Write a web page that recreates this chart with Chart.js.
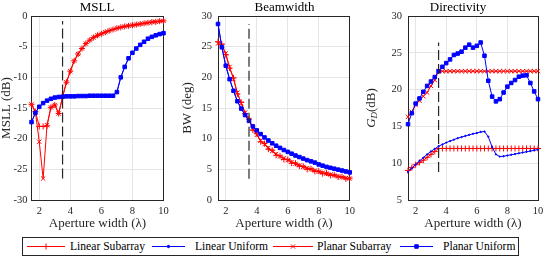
<!DOCTYPE html>
<html>
<head>
<meta charset="utf-8">
<script src="https://cdn.jsdelivr.net/npm/chart.js@4.4.0/dist/chart.umd.min.js"></script>
<style>
  body { margin: 0; background: #fff; width: 549px; height: 257px; overflow: hidden; position: relative; font-family: "Liberation Serif", serif; }
  canvas.panel { position: absolute; top: 0; }
  #legend { position: absolute; left: 22px; top: 237px; width: 497px; height: 19px; box-sizing: border-box; border: 1px solid #262626; background: #fff; }
  .item { position: absolute; top: 0; height: 17px; line-height: 17px; font-size: 11.6px; color: #000; white-space: nowrap; }
  .sample { position: absolute; top: 0; }
</style>
</head>
<body>
<canvas id="msll" class="panel" width="180" height="235" style="left:0px"></canvas>
<canvas id="bw" class="panel" width="180" height="235" style="left:180px"></canvas>
<canvas id="dir" class="panel" width="189" height="235" style="left:360px"></canvas>
<div id="legend"></div>
<script>
// aperture widths (lambda)
const apertureX = [1.5, 1.75, 2, 2.25, 2.5, 2.75, 3, 3.25, 3.5, 3.75, 4, 4.25, 4.5, 4.75, 5, 5.25, 5.5, 5.75,
  6, 6.25, 6.5, 6.75, 7, 7.25, 7.5, 7.75, 8, 8.25, 8.5, 8.75, 9, 9.25, 9.5, 9.75, 10];
const xTicks = [2, 4, 6, 8, 10];
const splitX = 3.5;
const seriesNames = ['Linear Subarray', 'Linear Uniform', 'Planar Subarray', 'Planar Uniform'];

// MSLL (dB)
const msllLinSub = [-14.4, -15.6, -18.0, -18.0, -17.9, -14.9, -14.5, -15.9, -13.2, -10.8,
  -9.0, -7.3, -6.2, -5.3, -4.5, -3.95, -3.5, -3.15, -2.9, -2.65,
  -2.4, -2.2, -2.0, -1.85, -1.7, -1.6, -1.5, -1.4, -1.3, -1.2,
  -1.1, -1.0, -0.95, -0.85, -0.8];
const msllLinUni = [-17.3, -15.8, -14.8, -14.2, -13.8, -13.5, -13.3, -13.2, -13.15, -13.1,
  -13.1, -13.1, -13.05, -13.05, -13.05, -13.0, -13.0, -13.0, -13.0, -13.0,
  -13.0, -13.0, -12.4, -10.0, -8.3, -6.9, -6.0, -5.3, -4.7, -4.2,
  -3.7, -3.4, -3.15, -2.95, -2.8];
const msllPlaSub = [-14.4, -15.6, -20.5, -26.5, -17.8, -14.9, -14.5, -15.9, -13.2, -10.8,
  -9.0, -7.3, -6.2, -5.3, -4.5, -3.95, -3.5, -3.15, -2.9, -2.65,
  -2.4, -2.2, -2.0, -1.85, -1.7, -1.6, -1.5, -1.4, -1.3, -1.2,
  -1.1, -1.0, -0.95, -0.85, -0.8];
const msllPlaUni = [-17.3, -15.8, -14.8, -14.2, -13.8, -13.5, -13.3, -13.2, -13.15, -13.1,
  -13.1, -13.1, -13.05, -13.05, -13.05, -13.0, -13.0, -13.0, -13.0, -13.0,
  -13.0, -13.0, -12.4, -10.0, -8.3, -6.9, -6.0, -5.3, -4.7, -4.2,
  -3.7, -3.4, -3.15, -2.95, -2.8];

// beamwidth (deg)
const bwLinSub = [25.8, 25.4, 23.7, 21.5, 19.9, 17.3, 15.9, 14.1, 13.2, 11.4,
  10.8, 9.5, 9.2, 8.3, 8.1, 7.3, 7.2, 6.6, 6.6, 6.0,
  6.0, 5.5, 5.5, 5.0, 5.1, 4.65, 4.7, 4.3, 4.4, 4.0,
  4.1, 3.75, 3.8, 3.45, 3.55];
const bwLinUni = [28.7, 24.9, 21.9, 19.7, 17.8, 16.1, 14.9, 13.85, 12.9, 12.0,
  11.35, 10.75, 10.2, 9.7, 9.25, 8.85, 8.5, 8.15, 7.85, 7.55,
  7.25, 7.0, 6.75, 6.5, 6.3, 6.1, 5.8, 5.6, 5.4, 5.25,
  5.1, 4.95, 4.8, 4.65, 4.5];
const bwPlaSub = [25.5, 25.2, 23.9, 21.7, 19.7, 17.5, 15.75, 14.25, 13.05, 11.6,
  10.6, 9.7, 9.1, 8.5, 8.0, 7.5, 7.1, 6.8, 6.5, 6.2,
  5.9, 5.65, 5.4, 5.2, 5.0, 4.8, 4.6, 4.45, 4.3, 4.15,
  4.0, 3.85, 3.7, 3.6, 3.5];
const bwPlaUni = [28.7, 24.9, 21.9, 19.7, 17.8, 16.1, 14.9, 13.85, 12.9, 12.0,
  11.35, 10.75, 10.2, 9.7, 9.25, 8.85, 8.5, 8.15, 7.85, 7.55,
  7.25, 7.0, 6.75, 6.5, 6.3, 6.1, 5.8, 5.6, 5.4, 5.25,
  5.1, 4.95, 4.8, 4.65, 4.5];

// directivity (dB)
const dirLinSub = [9.0, 9.4, 9.8, 10.1, 10.4, 10.8, 11.2, 11.6, 12.0, 12.0,
  12.0, 12.0, 12.0, 12.0, 12.0, 12.0, 12.0, 12.0, 12.0, 12.0,
  12.0, 12.0, 12.0, 12.0, 12.0, 12.0, 12.0, 12.0, 12.0, 12.0,
  12.0, 12.0, 12.0, 12.0, 12.0];
const dirLinUni = [8.8, 9.3, 9.8, 10.3, 10.75, 11.2, 11.6, 11.95, 12.3, 12.55,
  12.8, 13.0, 13.2, 13.4, 13.55, 13.7, 13.85, 14.0, 14.1, 14.25,
  14.3, 13.6, 12.2, 11.2, 10.9, 10.95, 11.05, 11.15, 11.25, 11.35,
  11.45, 11.55, 11.65, 11.75, 11.85];
const dirPlaSub = [16.3, 17.0, 17.9, 18.5, 19.1, 19.6, 20.5, 21.3, 22.5, 22.5,
  22.5, 22.5, 22.5, 22.5, 22.5, 22.5, 22.5, 22.5, 22.5, 22.5,
  22.5, 22.5, 22.5, 22.5, 22.5, 22.5, 22.5, 22.5, 22.5, 22.5,
  22.5, 22.5, 22.5, 22.5, 22.5];
const dirPlaUni = [15.3, 16.8, 18.1, 18.8, 19.7, 20.5, 21.1, 21.7, 22.5, 23.1,
  23.6, 24.1, 24.7, 24.9, 25.15, 25.7, 26.1, 25.7, 25.95, 26.4,
  24.6, 21.2, 19.05, 18.4, 18.7, 19.6, 20.4, 20.9, 21.3, 21.75,
  21.9, 21.95, 20.9, 19.75, 18.7];

const FONT = '"Liberation Serif", serif';
const AXIS = '#262626';

const styles = [
  { color: '#ff0000', pointStyle: 'cross', radius: 3 },
  { color: '#0000ff', pointStyle: 'circle', radius: 0.7 },
  { color: '#ff0000', pointStyle: 'crossRot', radius: 3 },
  { color: '#0000ff', pointStyle: 'rect', radius: 2.5 }
];

// per panel decorations: title, y title
const decor = {
  msll: { title: 'MSLL', titleX: 97, yTitleX: 7, yTitle: [{ t: 'MSLL (dB)' }] },
  bw: { title: 'Beamwidth', titleX: 104.5, yTitleX: 8, yTitle: [{ t: 'BW (deg)' }] },
  dir: { title: 'Directivity', titleX: 98, yTitleX: 12, yTitle: [{ t: 'G', it: true }, { t: 'D', it: true, sub: true }, { t: '(dB)' }] }
};

const decorPlugin = {
  id: 'decor',
  beforeDatasetsDraw(chart) {
    const a = chart.chartArea, ctx = chart.ctx;
    const l = Math.round(a.left - 0.5) + 0.5, t = Math.round(a.top - 0.5) + 0.5;
    const r = Math.round(a.right - 0.5) + 0.5, b = Math.round(a.bottom - 0.5) + 0.5;
    ctx.save();
    ctx.strokeStyle = AXIS;
    ctx.lineWidth = 1;
    ctx.strokeRect(l, t, r - l, b - t);
    ctx.restore();
  },
  afterDraw(chart) {
    const d = decor[chart.canvas.id], a = chart.chartArea, ctx = chart.ctx;
    ctx.save();
    ctx.fillStyle = '#000';
    ctx.font = '13px ' + FONT;
    ctx.textAlign = 'center';
    ctx.textBaseline = 'alphabetic';
    ctx.fillText(d.title, d.titleX, 11);

    // rotated y title, pieces laid out left to right
    ctx.fillStyle = AXIS;
    ctx.translate(d.yTitleX, (a.top + a.bottom) / 2);
    ctx.rotate(-Math.PI / 2);
    ctx.textAlign = 'left';
    ctx.textBaseline = 'middle';
    const fontOf = p => (p.it ? 'italic ' : '') + (p.sub ? '9px ' : '13px ') + FONT;
    let w = 0;
    d.yTitle.forEach(p => { ctx.font = fontOf(p); w += ctx.measureText(p.t).width; });
    let x = -w / 2;
    d.yTitle.forEach(p => {
      ctx.font = fontOf(p);
      ctx.fillText(p.t, x, p.sub ? 3 : 0);
      x += ctx.measureText(p.t).width;
    });
    ctx.restore();
  }
};

function toPoints(ys) {
  return apertureX.map((x, i) => ({ x: x, y: ys[i] }));
}

function makePanel(id, series, yMin, yMax, yWidth, tickPad, padRight) {
  const all = [].concat(...series);
  const lo = Math.min(...all), hi = Math.max(...all);
  const datasets = series.map((ys, i) => ({
    label: seriesNames[i],
    data: toPoints(ys),
    borderColor: styles[i].color,
    backgroundColor: styles[i].color,
    borderWidth: 1,
    pointStyle: styles[i].pointStyle,
    pointRadius: styles[i].radius,
    pointBorderWidth: 1,
    pointHoverRadius: styles[i].radius,
    tension: 0,
    clip: false,
    order: 5 - i
  }));
  datasets.push({
    label: 'split',
    data: [{ x: splitX, y: lo }, { x: splitX, y: hi }],
    borderColor: AXIS,
    borderWidth: 1.2,
    borderDash: [10, 4],
    pointRadius: 0,
    order: 0
  });

  new Chart(document.getElementById(id), {
    type: 'line',
    data: { datasets: datasets },
    options: {
      responsive: false,
      animation: false,
      events: [],
      layout: { padding: { left: 0, right: padRight, top: 16, bottom: 0 } },
      plugins: { legend: { display: false }, tooltip: { enabled: false } },
      scales: {
        x: {
          type: 'linear',
          min: 1.5,
          max: 10,
          afterBuildTicks: s => { s.ticks = xTicks.map(v => ({ value: v })); },
          afterFit: s => { s.height = 35; },
          grid: { color: '#e5e5e5', drawTicks: false },
          border: { color: AXIS },
          ticks: { padding: 5, color: AXIS, maxRotation: 0, font: { family: FONT, size: 10.5 } },
          title: {
            display: true,
            text: 'Aperture width (λ)',
            color: AXIS,
            font: { family: FONT, size: 13 },
            padding: { top: 0, bottom: 3.7 }
          }
        },
        y: {
          type: 'linear',
          min: yMin,
          max: yMax,
          afterFit: s => { s.width = yWidth; },
          grid: { color: '#e5e5e5', drawTicks: false },
          border: { color: AXIS },
          ticks: { stepSize: 5, padding: tickPad, color: AXIS, font: { family: FONT, size: 10.5 } }
        }
      }
    },
    plugins: [decorPlugin]
  });
}

makePanel('msll', [msllLinSub, msllLinUni, msllPlaSub, msllPlaUni], -30, 0, 31.5, 4, 16.5);
makePanel('bw', [bwLinSub, bwLinUni, bwPlaSub, bwPlaUni], 0, 30, 38, 6, 9);
makePanel('dir', [dirLinSub, dirLinUni, dirPlaSub, dirPlaUni], 5, 30, 48, 6, 11);

// legend
const legendPos = [
  { line: [27, 65], text: 70 },
  { line: [152, 185], text: 195 },
  { line: [273, 313], text: 317 },
  { line: [400, 433], text: 443 }
];
const legend = document.getElementById('legend');
seriesNames.forEach((name, i) => {
  const p = legendPos[i], st = styles[i];
  const w = p.line[1] - p.line[0];
  const c = document.createElement('canvas');
  c.className = 'sample';
  c.width = w + 8;
  c.height = 17;
  c.style.left = (p.line[0] - 23 - 4) + 'px';
  legend.appendChild(c);
  const ctx = c.getContext('2d');
  ctx.strokeStyle = st.color;
  ctx.fillStyle = st.color;
  ctx.lineWidth = 1;
  ctx.beginPath();
  ctx.moveTo(4, 8.5);
  ctx.lineTo(4 + w, 8.5);
  ctx.stroke();
  Chart.helpers.drawPoint(ctx, { pointStyle: st.pointStyle, radius: Math.max(st.radius, 1.2), borderWidth: 1 }, 4 + w / 2, 8.5);

  const t = document.createElement('div');
  t.className = 'item';
  t.style.left = (p.text - 23) + 'px';
  t.textContent = name;
  legend.appendChild(t);
});
</script>
</body>
</html>
